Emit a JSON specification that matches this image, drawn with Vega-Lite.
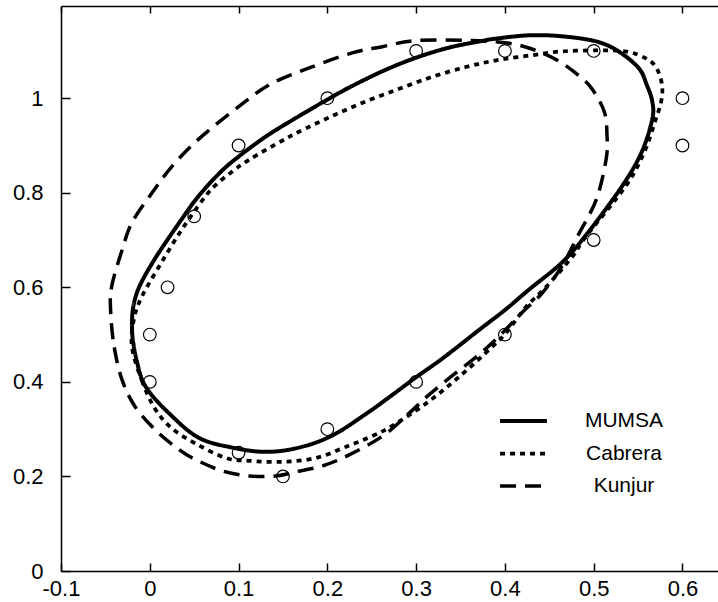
{
  "$schema": "https://vega.github.io/schema/vega-lite/v6.json",
  "width": 657,
  "height": 565,
  "autosize": "none",
  "padding": {"left": 61, "top": 6, "right": 0, "bottom": 31},
  "config": {"view": {"stroke": null}, "font": "Liberation Sans"},
  "datasets": {
    "curves": [
      {"series": "MUMSA", "i": 0, "x": -0.020, "y": 0.510},
      {"series": "MUMSA", "i": 1, "x": -0.014, "y": 0.439},
      {"series": "MUMSA", "i": 2, "x": -0.004, "y": 0.388},
      {"series": "MUMSA", "i": 3, "x": 0.022, "y": 0.333},
      {"series": "MUMSA", "i": 4, "x": 0.055, "y": 0.282},
      {"series": "MUMSA", "i": 5, "x": 0.093, "y": 0.261},
      {"series": "MUMSA", "i": 6, "x": 0.131, "y": 0.252},
      {"series": "MUMSA", "i": 7, "x": 0.168, "y": 0.261},
      {"series": "MUMSA", "i": 8, "x": 0.205, "y": 0.286},
      {"series": "MUMSA", "i": 9, "x": 0.244, "y": 0.333},
      {"series": "MUMSA", "i": 10, "x": 0.275, "y": 0.375},
      {"series": "MUMSA", "i": 11, "x": 0.300, "y": 0.410},
      {"series": "MUMSA", "i": 12, "x": 0.330, "y": 0.450},
      {"series": "MUMSA", "i": 13, "x": 0.371, "y": 0.510},
      {"series": "MUMSA", "i": 14, "x": 0.400, "y": 0.552},
      {"series": "MUMSA", "i": 15, "x": 0.427, "y": 0.595},
      {"series": "MUMSA", "i": 16, "x": 0.464, "y": 0.652},
      {"series": "MUMSA", "i": 17, "x": 0.492, "y": 0.712},
      {"series": "MUMSA", "i": 18, "x": 0.532, "y": 0.814},
      {"series": "MUMSA", "i": 19, "x": 0.554, "y": 0.886},
      {"series": "MUMSA", "i": 20, "x": 0.566, "y": 0.956},
      {"series": "MUMSA", "i": 21, "x": 0.566, "y": 0.993},
      {"series": "MUMSA", "i": 22, "x": 0.560, "y": 1.027},
      {"series": "MUMSA", "i": 23, "x": 0.551, "y": 1.063},
      {"series": "MUMSA", "i": 24, "x": 0.528, "y": 1.099},
      {"series": "MUMSA", "i": 25, "x": 0.503, "y": 1.120},
      {"series": "MUMSA", "i": 26, "x": 0.464, "y": 1.131},
      {"series": "MUMSA", "i": 27, "x": 0.427, "y": 1.133},
      {"series": "MUMSA", "i": 28, "x": 0.390, "y": 1.126},
      {"series": "MUMSA", "i": 29, "x": 0.374, "y": 1.121},
      {"series": "MUMSA", "i": 30, "x": 0.337, "y": 1.107},
      {"series": "MUMSA", "i": 31, "x": 0.299, "y": 1.085},
      {"series": "MUMSA", "i": 32, "x": 0.262, "y": 1.057},
      {"series": "MUMSA", "i": 33, "x": 0.224, "y": 1.022},
      {"series": "MUMSA", "i": 34, "x": 0.200, "y": 0.997},
      {"series": "MUMSA", "i": 35, "x": 0.168, "y": 0.962},
      {"series": "MUMSA", "i": 36, "x": 0.130, "y": 0.918},
      {"series": "MUMSA", "i": 37, "x": 0.093, "y": 0.866},
      {"series": "MUMSA", "i": 38, "x": 0.074, "y": 0.833},
      {"series": "MUMSA", "i": 39, "x": 0.055, "y": 0.793},
      {"series": "MUMSA", "i": 40, "x": 0.040, "y": 0.755},
      {"series": "MUMSA", "i": 41, "x": 0.003, "y": 0.652},
      {"series": "MUMSA", "i": 42, "x": -0.016, "y": 0.580},
      {"series": "Cabrera", "i": 0, "x": -0.020, "y": 0.473},
      {"series": "Cabrera", "i": 1, "x": -0.009, "y": 0.403},
      {"series": "Cabrera", "i": 2, "x": 0.005, "y": 0.346},
      {"series": "Cabrera", "i": 3, "x": 0.024, "y": 0.303},
      {"series": "Cabrera", "i": 4, "x": 0.052, "y": 0.269},
      {"series": "Cabrera", "i": 5, "x": 0.086, "y": 0.239},
      {"series": "Cabrera", "i": 6, "x": 0.112, "y": 0.233},
      {"series": "Cabrera", "i": 7, "x": 0.149, "y": 0.231},
      {"series": "Cabrera", "i": 8, "x": 0.187, "y": 0.239},
      {"series": "Cabrera", "i": 9, "x": 0.224, "y": 0.265},
      {"series": "Cabrera", "i": 10, "x": 0.250, "y": 0.285},
      {"series": "Cabrera", "i": 11, "x": 0.273, "y": 0.307},
      {"series": "Cabrera", "i": 12, "x": 0.311, "y": 0.354},
      {"series": "Cabrera", "i": 13, "x": 0.348, "y": 0.410},
      {"series": "Cabrera", "i": 14, "x": 0.385, "y": 0.473},
      {"series": "Cabrera", "i": 15, "x": 0.401, "y": 0.503},
      {"series": "Cabrera", "i": 16, "x": 0.424, "y": 0.559},
      {"series": "Cabrera", "i": 17, "x": 0.446, "y": 0.600},
      {"series": "Cabrera", "i": 18, "x": 0.476, "y": 0.665},
      {"series": "Cabrera", "i": 19, "x": 0.491, "y": 0.707},
      {"series": "Cabrera", "i": 20, "x": 0.536, "y": 0.814},
      {"series": "Cabrera", "i": 21, "x": 0.557, "y": 0.886},
      {"series": "Cabrera", "i": 22, "x": 0.570, "y": 0.956},
      {"series": "Cabrera", "i": 23, "x": 0.576, "y": 0.993},
      {"series": "Cabrera", "i": 24, "x": 0.577, "y": 1.027},
      {"series": "Cabrera", "i": 25, "x": 0.571, "y": 1.063},
      {"series": "Cabrera", "i": 26, "x": 0.559, "y": 1.084},
      {"series": "Cabrera", "i": 27, "x": 0.536, "y": 1.099},
      {"series": "Cabrera", "i": 28, "x": 0.503, "y": 1.101},
      {"series": "Cabrera", "i": 29, "x": 0.464, "y": 1.099},
      {"series": "Cabrera", "i": 30, "x": 0.427, "y": 1.090},
      {"series": "Cabrera", "i": 31, "x": 0.390, "y": 1.080},
      {"series": "Cabrera", "i": 32, "x": 0.356, "y": 1.066},
      {"series": "Cabrera", "i": 33, "x": 0.318, "y": 1.045},
      {"series": "Cabrera", "i": 34, "x": 0.281, "y": 1.020},
      {"series": "Cabrera", "i": 35, "x": 0.243, "y": 0.993},
      {"series": "Cabrera", "i": 36, "x": 0.205, "y": 0.962},
      {"series": "Cabrera", "i": 37, "x": 0.168, "y": 0.929},
      {"series": "Cabrera", "i": 38, "x": 0.149, "y": 0.910},
      {"series": "Cabrera", "i": 39, "x": 0.112, "y": 0.870},
      {"series": "Cabrera", "i": 40, "x": 0.093, "y": 0.845},
      {"series": "Cabrera", "i": 41, "x": 0.074, "y": 0.816},
      {"series": "Cabrera", "i": 42, "x": 0.060, "y": 0.786},
      {"series": "Cabrera", "i": 43, "x": 0.036, "y": 0.722},
      {"series": "Cabrera", "i": 44, "x": 0.013, "y": 0.652},
      {"series": "Cabrera", "i": 45, "x": -0.009, "y": 0.580},
      {"series": "Cabrera", "i": 46, "x": -0.018, "y": 0.531},
      {"series": "Kunjur", "i": 0, "x": -0.044, "y": 0.546},
      {"series": "Kunjur", "i": 1, "x": -0.040, "y": 0.473},
      {"series": "Kunjur", "i": 2, "x": -0.031, "y": 0.403},
      {"series": "Kunjur", "i": 3, "x": -0.016, "y": 0.346},
      {"series": "Kunjur", "i": 4, "x": 0.007, "y": 0.297},
      {"series": "Kunjur", "i": 5, "x": 0.030, "y": 0.261},
      {"series": "Kunjur", "i": 6, "x": 0.048, "y": 0.239},
      {"series": "Kunjur", "i": 7, "x": 0.081, "y": 0.212},
      {"series": "Kunjur", "i": 8, "x": 0.112, "y": 0.201},
      {"series": "Kunjur", "i": 9, "x": 0.142, "y": 0.201},
      {"series": "Kunjur", "i": 10, "x": 0.165, "y": 0.210},
      {"series": "Kunjur", "i": 11, "x": 0.194, "y": 0.222},
      {"series": "Kunjur", "i": 12, "x": 0.224, "y": 0.245},
      {"series": "Kunjur", "i": 13, "x": 0.262, "y": 0.285},
      {"series": "Kunjur", "i": 14, "x": 0.290, "y": 0.330},
      {"series": "Kunjur", "i": 15, "x": 0.314, "y": 0.372},
      {"series": "Kunjur", "i": 16, "x": 0.340, "y": 0.412},
      {"series": "Kunjur", "i": 17, "x": 0.367, "y": 0.452},
      {"series": "Kunjur", "i": 18, "x": 0.390, "y": 0.490},
      {"series": "Kunjur", "i": 19, "x": 0.419, "y": 0.546},
      {"series": "Kunjur", "i": 20, "x": 0.442, "y": 0.588},
      {"series": "Kunjur", "i": 21, "x": 0.464, "y": 0.644},
      {"series": "Kunjur", "i": 22, "x": 0.483, "y": 0.712},
      {"series": "Kunjur", "i": 23, "x": 0.503, "y": 0.786},
      {"series": "Kunjur", "i": 24, "x": 0.514, "y": 0.871},
      {"series": "Kunjur", "i": 25, "x": 0.515, "y": 0.920},
      {"series": "Kunjur", "i": 26, "x": 0.512, "y": 0.971},
      {"series": "Kunjur", "i": 27, "x": 0.498, "y": 1.020},
      {"series": "Kunjur", "i": 28, "x": 0.483, "y": 1.048},
      {"series": "Kunjur", "i": 29, "x": 0.461, "y": 1.078},
      {"series": "Kunjur", "i": 30, "x": 0.435, "y": 1.101},
      {"series": "Kunjur", "i": 31, "x": 0.405, "y": 1.116},
      {"series": "Kunjur", "i": 32, "x": 0.360, "y": 1.122},
      {"series": "Kunjur", "i": 33, "x": 0.300, "y": 1.122},
      {"series": "Kunjur", "i": 34, "x": 0.262, "y": 1.109},
      {"series": "Kunjur", "i": 35, "x": 0.228, "y": 1.096},
      {"series": "Kunjur", "i": 36, "x": 0.181, "y": 1.065},
      {"series": "Kunjur", "i": 37, "x": 0.136, "y": 1.030},
      {"series": "Kunjur", "i": 38, "x": 0.100, "y": 0.982},
      {"series": "Kunjur", "i": 39, "x": 0.056, "y": 0.915},
      {"series": "Kunjur", "i": 40, "x": 0.026, "y": 0.858},
      {"series": "Kunjur", "i": 41, "x": 0.003, "y": 0.801},
      {"series": "Kunjur", "i": 42, "x": -0.020, "y": 0.737},
      {"series": "Kunjur", "i": 43, "x": -0.031, "y": 0.680},
      {"series": "Kunjur", "i": 44, "x": -0.043, "y": 0.601}
    ],
    "points": [
      {"x": 0.2, "y": 1.0},
      {"x": 0.1, "y": 0.9},
      {"x": 0.05, "y": 0.75},
      {"x": 0.02, "y": 0.6},
      {"x": 0.0, "y": 0.5},
      {"x": 0.0, "y": 0.4},
      {"x": 0.1, "y": 0.25},
      {"x": 0.15, "y": 0.2},
      {"x": 0.2, "y": 0.3},
      {"x": 0.3, "y": 0.4},
      {"x": 0.4, "y": 0.5},
      {"x": 0.5, "y": 0.7},
      {"x": 0.6, "y": 0.9},
      {"x": 0.6, "y": 1.0},
      {"x": 0.5, "y": 1.1},
      {"x": 0.4, "y": 1.1},
      {"x": 0.3, "y": 1.1}
    ]
  },
  "layer": [
    {
      "data": {"name": "curves"},
      "mark": {"type": "line", "interpolate": "cardinal-closed", "color": "black", "strokeCap": "butt"},
      "encoding": {
        "x": {
          "field": "x", "type": "quantitative",
          "scale": {"domain": [-0.1, 0.64], "nice": false, "zero": false},
          "axis": {
            "orient": "bottom", "title": null, "grid": false,
            "values": [-0.1, 0, 0.1, 0.2, 0.3, 0.4, 0.5, 0.6],
            "labelExpr": "'' + datum.value",
            "labelFont": "Liberation Sans", "labelFontSize": 22, "labelColor": "black",
            "labelPadding": 15, "labelFlush": false,
            "tickSize": -8, "tickColor": "black", "tickWidth": 1.5,
            "domainColor": "black", "domainWidth": 1.5
          }
        },
        "y": {
          "field": "y", "type": "quantitative",
          "scale": {"domain": [0, 1.195], "nice": false, "zero": false},
          "axis": {
            "orient": "left", "title": null, "grid": false,
            "values": [0, 0.2, 0.4, 0.6, 0.8, 1],
            "labelExpr": "'' + datum.value",
            "labelFont": "Liberation Sans", "labelFontSize": 22, "labelColor": "black",
            "labelPadding": 27, "labelFlush": false,
            "tickSize": -9, "tickColor": "black", "tickWidth": 1.5,
            "domainColor": "black", "domainWidth": 1.5
          }
        },
        "order": {"field": "i", "type": "quantitative"},
        "strokeDash": {
          "field": "series", "type": "nominal",
          "scale": {"domain": ["MUMSA", "Cabrera", "Kunjur"], "range": [[1, 0], [5, 5], [16, 9]]},
          "legend": {
            "title": null, "orient": "none", "legendX": 437, "legendY": 404,
            "symbolType": "stroke", "symbolSize": 2200, "symbolStrokeColor": "black",
            "labelFont": "Liberation Sans", "labelFontSize": 21, "labelColor": "black",
            "labelAlign": "center", "labelOffset": 75, "clipHeight": 22, "rowPadding": 10.5, "padding": 0
          }
        },
        "strokeWidth": {
          "field": "series", "type": "nominal",
          "scale": {"domain": ["MUMSA", "Cabrera", "Kunjur"], "range": [4, 3.5, 1.6]},
          "legend": {
            "title": null, "orient": "none", "legendX": 437, "legendY": 404,
            "symbolType": "stroke", "symbolSize": 2200, "symbolStrokeColor": "black",
            "labelFont": "Liberation Sans", "labelFontSize": 21, "labelColor": "black",
            "labelAlign": "center", "labelOffset": 75, "clipHeight": 22, "rowPadding": 10.5, "padding": 0
          }
        }
      }
    },
    {
      "data": {"name": "points"},
      "mark": {"type": "point", "shape": "circle", "filled": false, "stroke": "black", "strokeWidth": 1.2, "size": 160, "opacity": 1},
      "encoding": {
        "x": {
          "field": "x", "type": "quantitative",
          "axis": {
            "orient": "top", "title": null, "grid": false, "labels": false,
            "values": [-0.1, 0, 0.1, 0.2, 0.3, 0.4, 0.5, 0.6],
            "tickSize": -7, "tickColor": "black", "tickWidth": 1.5,
            "domainColor": "black", "domainWidth": 1.5
          }
        },
        "y": {"field": "y", "type": "quantitative"}
      }
    }
  ]
}
